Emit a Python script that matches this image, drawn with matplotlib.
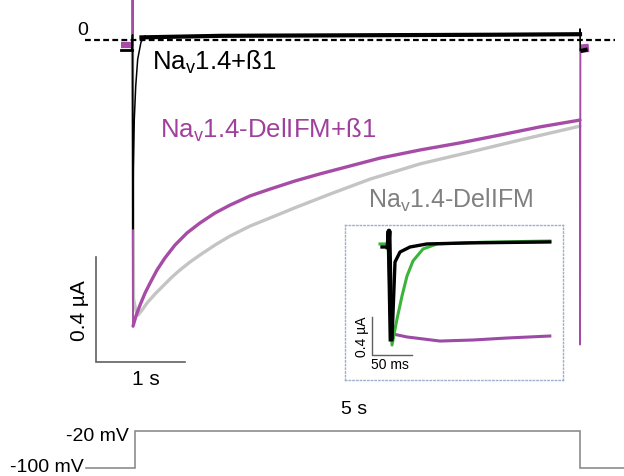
import matplotlib
matplotlib.use("Agg")
import matplotlib.pyplot as plt

plt.rcParams['font.family'] = ['Liberation Sans', 'DejaVu Sans']
plt.rcParams['mathtext.fontset'] = 'custom'
plt.rcParams['mathtext.rm'] = 'Liberation Sans'

# ---------------- data (main traces: time in s, current in µA) ----------------
# Nav1.4+ß1 (black)
black_pre_t = [-0.129, -0.01]
black_pre_i = [-0.037, -0.037]
black_t = [-0.01, 0.0, 0.005, 0.009, 0.020, 0.036, 0.058, 0.095, 0.14]
black_i = [-0.037, 0.02, -0.72, -0.492, -0.302, -0.176, -0.073, -0.008, 0.015]
black_plat_t = [0.10, 1.0, 2.5, 4.0, 5.0]
black_plat_i = [0.010, 0.016, 0.018, 0.020, 0.022]
black_end_t = [5.0, 5.0, 5.003]
black_end_i = [0.022, 0.042, -0.04]
black_tail_t = [5.005, 5.085]
black_tail_i = [-0.042, -0.036]

# Nav1.4-DelIFM+ß1 (purple)
purple_pre_t = [-0.129, -0.01]
purple_pre_i = [-0.02, -0.02]
purple_cap_t = [-0.01, 0.0, 0.0, 0.006]
purple_cap_i = [-0.02, -0.02, 0.30, -1.090]
purple_t = [0.006, 0.039, 0.084, 0.140, 0.196, 0.274, 0.363, 0.475, 0.609, 0.754, 0.922, 1.089,
            1.313, 1.536, 1.816, 2.095, 2.430, 2.765, 3.212, 3.659, 4.106, 4.553, 5.0]
purple_i = [-1.090, -1.051, -1.010, -0.964, -0.926, -0.876, -0.830, -0.781, -0.735, -0.697, -0.659, -0.629,
            -0.594, -0.568, -0.537, -0.510, -0.480, -0.450, -0.419, -0.392, -0.362, -0.331, -0.305]
purple_end_t = [5.0, 5.0, 5.004]
purple_end_i = [-0.305, -1.16, -0.035]
purple_tail_t = [5.004, 5.10]
purple_tail_i = [-0.033, -0.030]

# Nav1.4-DelIFM (gray)
gray_t = [0.0, 0.011, 0.039, 0.061, 0.106, 0.162, 0.251, 0.341, 0.441, 0.531, 0.642, 0.754, 0.922, 1.089,
          1.313, 1.536, 1.838, 2.207, 2.654, 3.212, 3.771, 4.330, 5.0]
gray_i = [-0.02, -0.987, -1.032, -1.048, -1.029, -1.002, -0.968, -0.937, -0.903, -0.876, -0.846, -0.819,
          -0.781, -0.747, -0.709, -0.678, -0.636, -0.587, -0.530, -0.472, -0.427, -0.381, -0.328]

# voltage protocol (s, mV)
prot_t = [-0.52, 0.028, 0.028, 5.0, 5.0, 5.5]
prot_v = [-100, -100, -20, -20, -100, -100]

# inset traces (time in ms, current in µA)
ins_black_t = [-8.75, -1.25, 0.0, 2.5, 3.75, 7.5, 13.75, 26.25, 47.5, 100, 201]
ins_black_i = [-0.021, -0.021, 0.147, -0.99, -0.99, -0.179, -0.074, -0.021, 0.011, 0.022, 0.032]
ins_green_t = [-11.25, -1.25, 3.75, 10, 16.25, 22.5, 30, 42.5, 60, 120, 201]
ins_green_i = [0.011, 0.011, -1.053, -0.779, -0.537, -0.326, -0.168, -0.042, 0.011, 0.030, 0.042]
ins_purple_t = [3.0, 5, 22.5, 63.75, 105, 147.5, 201]
ins_purple_i = [-0.90, -0.937, -0.968, -1.011, -1.0, -0.979, -0.958]

PURPLE = '#a64ca6'
GRAY = '#c4c4c4'
GREEN = '#3cb43c'
BAR = '#606060'

fig = plt.figure(figsize=(6.24, 4.77), dpi=100)

# ---------------- main axes ----------------
ax = fig.add_axes([0, 0, 1, 1])
ax.axis('off')
ax.set_xlim(-132.5 / 89.5, (624 - 132.5) / 89.5)
ax.set_ylim(-(477 - 41) / 262.5, 41 / 262.5)

ax.plot(gray_t, gray_i, color=GRAY, lw=2.4, solid_joinstyle='round', solid_capstyle='round', zorder=2)
ax.plot(purple_cap_t, purple_cap_i, color=PURPLE, lw=1.4, zorder=3)
ax.plot(purple_t, purple_i, color=PURPLE, lw=2.4, solid_joinstyle='round', solid_capstyle='round', zorder=3)
ax.plot(purple_end_t, purple_end_i, color=PURPLE, lw=1.4, zorder=3)
ax.plot(purple_tail_t, purple_tail_i, color=PURPLE, lw=6, solid_capstyle='butt', zorder=3)
ax.plot(purple_pre_t, purple_pre_i, color=PURPLE, lw=4.5, solid_capstyle='butt', zorder=3)
ax.plot(black_pre_t, black_pre_i, color='black', lw=2, zorder=4)
ax.plot(black_t, black_i, color='black', lw=1.1, zorder=4)
ax.plot(black_plat_t, black_plat_i, color='black', lw=3.0, zorder=4)
ax.plot(black_end_t, black_end_i, color='black', lw=1.2, zorder=4)
ax.plot(black_tail_t, black_tail_i, color='black', lw=3, solid_capstyle='butt', zorder=4)

# zero line
ax.plot([-0.531, 5.39], [0, 0], color='black', lw=1.6, ls=(0, (2.6, 1.5)), zorder=5)
ax.text(-0.56, 0.04, '0', fontsize=14, ha='center', va='center')

# labels
ax.text(0.22, -0.08, r'Na$_{\mathregular{v}}$1.4+ß1', fontsize=18.5, color='black', ha='left', va='center')
ax.text(0.31, -0.339, r'Na$_{\mathregular{v}}$1.4-DelIFM+ß1', fontsize=18.5, color='#a0409c', ha='left', va='center')
ax.text(2.63, -0.606, r'Na$_{\mathregular{v}}$1.4-DelIFM', fontsize=18, color='#808080', ha='left', va='center')

# scale bars
sb_x0, sb_y0 = -0.408, -1.2267
ax.plot([sb_x0, sb_x0, sb_x0 + 1.0], [sb_y0 + 0.4, sb_y0, sb_y0], color=BAR, lw=1.2, solid_joinstyle='miter')
ax.text(-0.59, sb_y0 + 0.2, '0.4 µA', rotation=90, fontsize=15, ha='center', va='center')
ax.text(0.151, -1.291, '1 s', fontsize=15, ha='center', va='center')

# ---------------- voltage protocol ----------------
axp = fig.add_axes([0, 0, 1, 1], facecolor='none')
axp.axis('off')
axp.set_xlim(ax.get_xlim())
axp.set_ylim(-100 - 8 * 80 / 37, -20 + 432 * 80 / 37)
axp.plot(prot_t, prot_v, color='#8c8c8c', lw=1.2, solid_joinstyle='miter')
axp.text(-0.04, -20 - 5 * 80 / 37, '-20 mV', fontsize=14, ha='right', va='center')
axp.text(-0.55, -100 + 1 * 80 / 37, '-100 mV', fontsize=14, ha='right', va='center')
axp.text(2.48, -20 + 22 * 80 / 37, '5 s', fontsize=14, ha='center', va='center')

# ---------------- inset ----------------
axi = fig.add_axes([345 / 624, (477 - 381) / 477, 218 / 624, 155 / 477])
axi.set_xlim(-55, 217.5)
axi.set_ylim(-1.421, 0.2105)
axi.set_xticks([])
axi.set_yticks([])
for s in axi.spines.values():
    s.set_linestyle(':')
    s.set_color('#9fb0cc')
    s.set_linewidth(1.0)

axi.plot(ins_purple_t, ins_purple_i, color='#9b4aa6', lw=2.2, zorder=2)
axi.plot(ins_green_t, ins_green_i, color=GREEN, lw=2.2, zorder=3)
axi.plot(ins_black_t, ins_black_i, color='black', lw=2.4, zorder=4)
axi.plot(ins_black_t[1:4], ins_black_i[1:4], color='black', lw=3.5, zorder=4)

ib_x, ib_y = -21.25, -1.158
axi.plot([ib_x, ib_x, ib_x + 50], [ib_y + 0.4, ib_y, ib_y], color=BAR, lw=1.0)
axi.text(-33.75, ib_y + 0.2, '0.4 µA', rotation=90, fontsize=10, ha='center', va='center')
axi.text(1.25, -1.2526, '50 ms', fontsize=10, ha='center', va='center')

fig.savefig('out.png', dpi=100)
